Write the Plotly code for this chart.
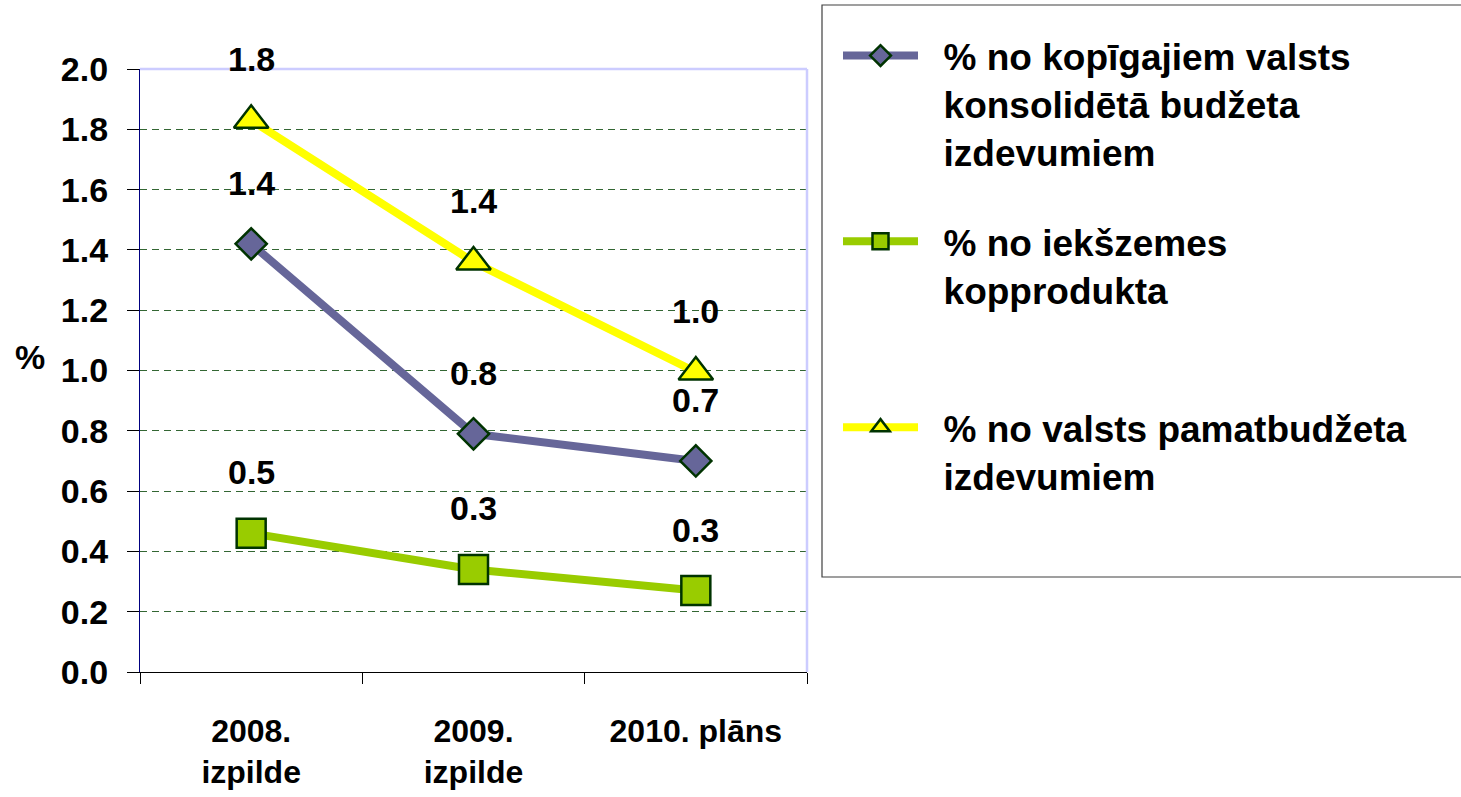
import plotly.graph_objects as go

# ---- data ----
categories = ["2008.<br>izpilde", "2009.<br>izpilde", "2010. plāns"]
series_names = [
    "% no kopīgajiem valsts<br>konsolidētā budžeta<br>izdevumiem",
    "% no iekšzemes<br>kopprodukta<br> ",
    "% no valsts pamatbudžeta<br>izdevumiem",
]
consolidated_pct = [1.42, 0.79, 0.70]
gdp_pct = [0.46, 0.34, 0.27]
basic_budget_pct = [1.83, 1.36, 0.995]
y_tick_values = [0.0, 0.2, 0.4, 0.6, 0.8, 1.0, 1.2, 1.4, 1.6, 1.8, 2.0]
y_title = "%"

FONT = "Arial, Liberation Sans, Helvetica, sans-serif"
MARKER_EDGE = "#003300"
PAD = "\u00a0\u00a0"


def legend_text(s):
    return "<br>".join(PAD + part for part in s.split("<br>"))


series = [
    (series_names[0], consolidated_pct, "#666699", "diamond", 24),
    (series_names[1], gdp_pct, "#99cc00", "square", 29),
    (series_names[2], basic_budget_pct, "#ffff00", "triangle-up", 30),
]

fig = go.Figure()
for i, (name, vals, color, sym, size) in enumerate(series):
    fig.add_trace(go.Scatter(
        x=categories, y=vals, name=legend_text(name), mode="lines+markers",
        legendgroup=f"g{i}",
        line=dict(color=color, width=8),
        marker=dict(symbol=sym, size=size, color=color,
                    line=dict(color=MARKER_EDGE, width=2.5)),
        cliponaxis=False,
    ))
    for c, v in zip(categories, vals):
        fig.add_annotation(x=c, y=v, text=f"{v:.1f}", showarrow=False,
                           yshift=61, font=dict(family=FONT, size=34,
                                                color="black", weight="bold"))

# y-axis title (horizontal)
fig.add_annotation(xref="paper", yref="paper", x=-0.165, y=0.522,
                   text=y_title, showarrow=False, xanchor="center",
                   font=dict(family=FONT, size=34, color="black", weight="bold"))

# lavender top/right border of the plot area
fig.add_shape(type="line", xref="paper", yref="paper", x0=0, x1=1, y0=1, y1=1,
              line=dict(color="#ccccff", width=2.5))
fig.add_shape(type="line", xref="paper", yref="paper", x0=1, x1=1, y0=0, y1=1,
              line=dict(color="#ccccff", width=2.5))
# legend box
fig.add_shape(type="rect", xref="paper", yref="paper",
              x0=(822 - 140) / 667, x1=(1463 - 140) / 667,
              y0=(672 - 577) / 603, y1=(672 - 5) / 603,
              line=dict(color="#404040", width=1.2), fillcolor="rgba(0,0,0,0)")

fig.update_layout(
    width=1461, height=797,
    margin=dict(l=140, r=654, t=69, b=125, autoexpand=False),
    paper_bgcolor="white", plot_bgcolor="white",
    font=dict(family=FONT, color="black"),
    showlegend=True,
    legend=dict(
        x=(838 - 140) / 667, y=(672 - 506) / 603, xanchor="left", yanchor="bottom",
        bgcolor="rgba(0,0,0,0)", borderwidth=0,
        font=dict(family=FONT, size=37, color="black", weight="bold"),
        valign="top", tracegroupgap=38.5, itemwidth=75,
    ),
    xaxis=dict(
        type="category", tickson="boundaries", range=[-0.5, 2.5],
        showgrid=False, showline=True, linecolor="black", linewidth=1.2,
        ticks="outside", ticklen=11, tickcolor="black", tickwidth=1,
        ticklabelstandoff=30, automargin=False,
        tickfont=dict(family=FONT, size=32, color="black", weight="bold"),
        zeroline=False,
    ),
    yaxis=dict(
        range=[0, 2.0], tickvals=y_tick_values, tickformat=".1f",
        showgrid=True, gridcolor="#336633", griddash="7px,5px", gridwidth=1,
        showline=True, linecolor="#000080", linewidth=1.2,
        ticks="outside", ticklen=12, tickcolor="black", tickwidth=1,
        ticklabelstandoff=12, automargin=False,
        tickfont=dict(family=FONT, size=34, color="black", weight="bold"),
        zeroline=False,
    ),
)

fig.write_html("out.html", config={"displayModeBar": False},
               post_script="document.body.style.margin='0px';")
